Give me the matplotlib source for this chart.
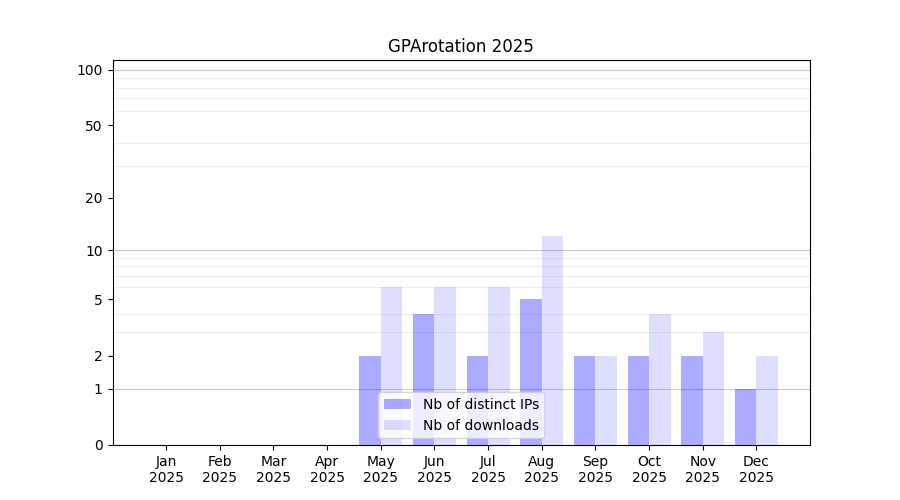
import numpy as np
import matplotlib
matplotlib.use("Agg")
import matplotlib.pyplot as plt
from matplotlib.ticker import FixedLocator, NullFormatter

months = ["Jan", "Feb", "Mar", "Apr", "May", "Jun", "Jul", "Aug", "Sep", "Oct", "Nov", "Dec"]
year = "2025"
distinct_ips = [0, 0, 0, 0, 2, 4, 2, 5, 2, 2, 2, 1]
downloads = [0, 0, 0, 0, 6, 6, 6, 12, 2, 4, 3, 2]
ytick_values = [0, 1, 2, 5, 10, 20, 50, 100]

fig, ax = plt.subplots(figsize=(9, 5), dpi=100)
ax.set_yscale('function', functions=(lambda v: np.log10(1 + np.clip(v, 0, None)),
                                     lambda v: 10 ** v - 1))
x = np.arange(len(months))
w = 0.4
ax.bar(x - w / 2, distinct_ips, width=w, color=(0, 0, 1, 0.33), label="Nb of distinct IPs", zorder=2)
ax.bar(x + w / 2, downloads, width=w, color=(0, 0, 1, 0.13), label="Nb of downloads", zorder=2)

ax.set_xticks(x)
ax.set_xticklabels([f"{m}\n{year}" for m in months])
ax.set_xlim(-1, 12)
ax.set_ylim(0, 113)
ax.yaxis.set_major_locator(FixedLocator(ytick_values))
ax.set_yticklabels([str(v) for v in ytick_values])
minor = [v for v in list(range(2, 10)) + list(range(20, 100, 10))]
ax.yaxis.set_minor_locator(FixedLocator(minor))
ax.yaxis.set_minor_formatter(NullFormatter())
ax.tick_params(axis='y', which='minor', length=0)
ax.grid(True, which='minor', axis='y', color='#eeeeee', linewidth=0.8, zorder=0)
for v in [1, 10, 100]:
    ax.axhline(v, color='#cccccc', linewidth=0.8, zorder=1)
ax.set_axisbelow(True)
ax.set_title("GPArotation 2025")
ax.legend(loc='lower center')
fig.savefig("out.png", dpi=100)
